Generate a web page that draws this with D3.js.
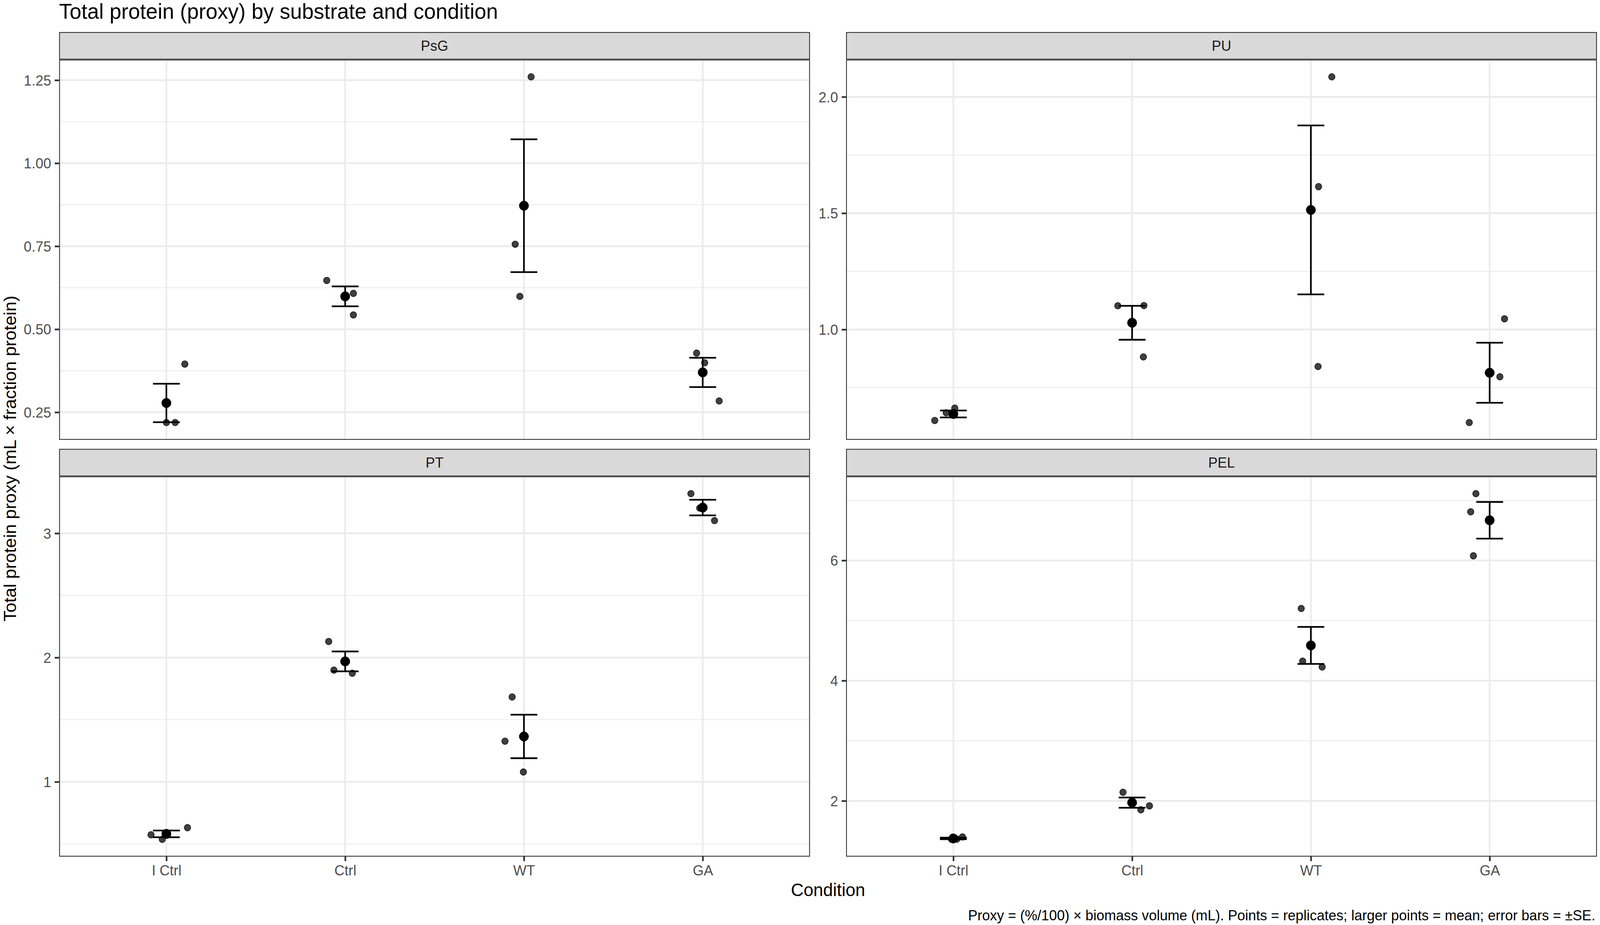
<!DOCTYPE html>
<html>
<head>
<meta charset="utf-8">
<script src="https://cdn.jsdelivr.net/npm/d3@7"></script>
<style>
  html, body { margin: 0; padding: 0; background: #ffffff; overflow: hidden; width: 100%; height: 100%; }
  #chart { width: 100vw; height: 100vh; }
  svg { display: block; font-family: "Liberation Sans", Arial, Helvetica, sans-serif; }
</style>
</head>
<body>
<div id="chart"></div>
<script>
// ---------------- DATA ----------------
const conditions = ["I Ctrl", "Ctrl", "WT", "GA"];
const substrates = ["PsG", "PU", "PT", "PEL"];

// replicate values per condition (3 replicates each)
const repPsG = [[0.219, 0.219, 0.395], [0.647, 0.608, 0.543], [1.260, 0.756, 0.599], [0.428, 0.399, 0.284]];
const repPU  = [[0.609, 0.642, 0.662], [1.102, 1.103, 0.882], [2.086, 1.614, 0.841], [1.046, 0.797, 0.600]];
const repPT  = [[0.574, 0.537, 0.631], [2.129, 1.899, 1.874], [1.683, 1.327, 1.079], [3.319, 3.203, 3.102]];
const repPEL = [[1.360, 1.365, 1.400], [2.143, 1.852, 1.918], [5.201, 4.325, 4.228], [7.111, 6.809, 6.077]];

// horizontal jitter of the replicates (in condition units, as produced by the original jitter)
const jitPsG = [[0.000, 0.049, 0.103], [-0.103, 0.046, 0.046], [0.040, -0.049, -0.023], [-0.034, 0.011, 0.092]];
const jitPU  = [[-0.104, -0.040, 0.008], [-0.080, 0.066, 0.063], [0.117, 0.043, 0.040], [0.083, 0.057, -0.114]];
const jitPT  = [[-0.086, -0.023, 0.118], [-0.092, -0.063, 0.040], [-0.066, -0.106, -0.003], [-0.066, -0.017, 0.066]];
const jitPEL = [[-0.010, 0.020, 0.051], [-0.051, 0.049, 0.097], [-0.054, -0.046, 0.063], [-0.077, -0.106, -0.091]];

// means and standard errors
const meanPsG = [0.278, 0.599, 0.872, 0.370];
const sePsG   = [0.058, 0.030, 0.200, 0.044];
const meanPU  = [0.637, 1.029, 1.514, 0.814];
const sePU    = [0.015, 0.073, 0.363, 0.129];
const meanPT  = [0.581, 1.969, 1.365, 3.207];
const sePT    = [0.027, 0.080, 0.175, 0.063];
const meanPEL = [1.375, 1.971, 4.586, 6.668];
const sePEL   = [0.013, 0.085, 0.308, 0.305];

// y tick values and labels
const ticksPsG = [0.25, 0.50, 0.75, 1.00, 1.25];
const tickLabelsPsG = ["0.25", "0.50", "0.75", "1.00", "1.25"];
const ticksPU = [1.0, 1.5, 2.0];
const tickLabelsPU = ["1.0", "1.5", "2.0"];
const ticksPT = [1, 2, 3];
const tickLabelsPT = ["1", "2", "3"];
const ticksPEL = [2, 4, 6];
const tickLabelsPEL = ["2", "4", "6"];

const titleText = "Total protein (proxy) by substrate and condition";
const xTitle = "Condition";
const yTitle = "Total protein proxy (mL \u00d7 fraction protein)";
const captionText = "Proxy = (%/100) \u00d7 biomass volume (mL). Points = replicates; larger points = mean; error bars = \u00b1SE.";

// ---------------- LAYOUT ----------------
const W = 4168, H = 2368;
const colX = [154, 2204];
const panelW = 1956;
const rowY = [82, 1149];
const stripH = 70.5;
const panelH = 973.5;
const tickLen = 11.5, tickPad = 9.2;
const fsTick = 36.7, fsTitle = 55, fsAxisTitle = 45.8;

const panels = [
  { name: substrates[0], rep: repPsG, jit: jitPsG, mean: meanPsG, se: sePsG, ticks: ticksPsG, labels: tickLabelsPsG, col: 0, row: 0 },
  { name: substrates[1], rep: repPU,  jit: jitPU,  mean: meanPU,  se: sePU,  ticks: ticksPU,  labels: tickLabelsPU,  col: 1, row: 0 },
  { name: substrates[2], rep: repPT,  jit: jitPT,  mean: meanPT,  se: sePT,  ticks: ticksPT,  labels: tickLabelsPT,  col: 0, row: 1 },
  { name: substrates[3], rep: repPEL, jit: jitPEL, mean: meanPEL, se: sePEL, ticks: ticksPEL, labels: tickLabelsPEL, col: 1, row: 1 }
];

// the svg fills the visible window; the drawing uses a fixed 4168x2368 coordinate system
const svg = d3.select("#chart").append("svg")
  .attr("width", "100%").attr("height", "100%")
  .attr("viewBox", `0 0 ${W} ${H}`)
  .attr("preserveAspectRatio", "none");

svg.append("rect").attr("width", W).attr("height", H).attr("fill", "#ffffff");

// title
svg.append("text")
  .attr("x", colX[0]).attr("y", 48)
  .attr("font-size", fsTitle).attr("fill", "#000000")
  .text(titleText);

panels.forEach(p => {
  const x0 = colX[p.col];
  const sy = rowY[p.row];
  const py = sy + stripH;

  // y domain with 5% expansion (ggplot default)
  const vals = [];
  p.rep.forEach(r => r.forEach(v => vals.push(v)));
  p.mean.forEach((m, i) => { vals.push(m - p.se[i]); vals.push(m + p.se[i]); });
  const lo = d3.min(vals), hi = d3.max(vals);
  const pad = (hi - lo) * 0.05;
  const y = d3.scaleLinear().domain([lo - pad, hi + pad]).range([py + panelH, py]);

  const x = d3.scalePoint().domain(conditions).range([x0, x0 + panelW]).padding(0.6);
  const step = x.step();

  const g = svg.append("g");
  const clipId = "clip-" + p.name;
  g.append("clipPath").attr("id", clipId)
    .append("rect").attr("x", x0).attr("y", py).attr("width", panelW).attr("height", panelH);

  // panel background
  g.append("rect").attr("x", x0).attr("y", py).attr("width", panelW).attr("height", panelH).attr("fill", "#ffffff");

  const inner = g.append("g").attr("clip-path", `url(#${clipId})`);

  // minor grid (midpoints between major ticks)
  const stepT = p.ticks[1] - p.ticks[0];
  const minor = [];
  for (let t = p.ticks[0] - stepT; t <= p.ticks[p.ticks.length - 1] + stepT / 2; t += stepT) {
    const m = t + stepT / 2;
    const [d0, d1] = y.domain();
    if (m > d0 && m < d1) minor.push(m);
  }
  inner.selectAll(".minor").data(minor).enter().append("line")
    .attr("x1", x0).attr("x2", x0 + panelW)
    .attr("y1", d => y(d)).attr("y2", d => y(d))
    .attr("stroke", "#EBEBEB").attr("stroke-width", 2.2);

  // major grid
  inner.selectAll(".majory").data(p.ticks).enter().append("line")
    .attr("x1", x0).attr("x2", x0 + panelW)
    .attr("y1", d => y(d)).attr("y2", d => y(d))
    .attr("stroke", "#EBEBEB").attr("stroke-width", 4.4);
  inner.selectAll(".majorx").data(conditions).enter().append("line")
    .attr("x1", d => x(d)).attr("x2", d => x(d))
    .attr("y1", py).attr("y2", py + panelH)
    .attr("stroke", "#EBEBEB").attr("stroke-width", 4.4);

  // replicates
  const reps = [];
  p.rep.forEach((r, i) => r.forEach((v, j) => reps.push({ c: conditions[i], v: v, j: p.jit[i][j] })));
  inner.selectAll(".rep").data(reps).enter().append("circle")
    .attr("cx", d => x(d.c) + d.j * step)
    .attr("cy", d => y(d.v))
    .attr("r", 8.3)
    .attr("fill", "#000000").attr("fill-opacity", 0.75)
    .attr("stroke", "#000000").attr("stroke-opacity", 0.75).attr("stroke-width", 1.9);

  // error bars
  const half = 0.075 * step;
  const eb = p.mean.map((m, i) => ({ c: conditions[i], m: m, se: p.se[i] }));
  inner.selectAll(".eb").data(eb).enter().append("path")
    .attr("d", d => {
      const cx = x(d.c), yt = y(d.m + d.se), yb = y(d.m - d.se);
      return `M${cx - half},${yt}H${cx + half}M${cx},${yt}V${yb}M${cx - half},${yb}H${cx + half}`;
    })
    .attr("fill", "none").attr("stroke", "#000000").attr("stroke-width", 4.3);

  // means
  inner.selectAll(".mean").data(eb).enter().append("circle")
    .attr("cx", d => x(d.c)).attr("cy", d => y(d.m))
    .attr("r", 12.2).attr("fill", "#000000")
    .attr("stroke", "#000000").attr("stroke-width", 1);

  // panel border (clipped ggplot look: half visible)
  g.append("rect").attr("x", x0 + 1.1).attr("y", py + 1.1)
    .attr("width", panelW - 2.2).attr("height", panelH - 2.2)
    .attr("fill", "none").attr("stroke", "#333333").attr("stroke-width", 2.2);

  // strip
  g.append("rect").attr("x", x0).attr("y", sy).attr("width", panelW).attr("height", stripH).attr("fill", "#D9D9D9");
  g.append("rect").attr("x", x0 + 1.1).attr("y", sy + 1.1)
    .attr("width", panelW - 2.2).attr("height", stripH - 2.2)
    .attr("fill", "none").attr("stroke", "#333333").attr("stroke-width", 2.2);
  g.append("text")
    .attr("x", x0 + panelW / 2).attr("y", sy + stripH / 2)
    .attr("dy", "0.355em")
    .attr("text-anchor", "middle")
    .attr("font-size", fsTick).attr("fill", "#1A1A1A")
    .text(p.name);

  // y axis
  const yAxis = d3.axisLeft(y)
    .tickValues(p.ticks)
    .tickFormat((d, i) => p.labels[i])
    .tickSize(tickLen).tickPadding(tickPad);
  const ya = svg.append("g").attr("transform", `translate(${x0},0)`).call(yAxis);
  ya.select(".domain").remove();
  ya.selectAll(".tick line").attr("stroke", "#333333").attr("stroke-width", 4.4);
  ya.selectAll(".tick text")
    .attr("font-size", fsTick).attr("fill", "#4D4D4D")
    .attr("font-family", "Liberation Sans, Arial, Helvetica, sans-serif")
    .attr("dy", "0.355em");

  // x axis on bottom row only
  if (p.row === 1) {
    const xAxis = d3.axisBottom(x).tickSize(tickLen).tickPadding(tickPad);
    const xa = svg.append("g").attr("transform", `translate(0,${py + panelH})`).call(xAxis);
    xa.select(".domain").remove();
    xa.selectAll(".tick line").attr("stroke", "#333333").attr("stroke-width", 4.4);
    xa.selectAll(".tick text")
      .attr("font-size", fsTick).attr("fill", "#4D4D4D")
      .attr("font-family", "Liberation Sans, Arial, Helvetica, sans-serif")
      .attr("dy", "0.75em");
  }
});

// axis titles
svg.append("text")
  .attr("x", (colX[0] + colX[1] + panelW) / 2).attr("y", 2294)
  .attr("text-anchor", "middle")
  .attr("font-size", fsAxisTitle).attr("fill", "#000000")
  .text(xTitle);

svg.append("text")
  .attr("transform", `translate(42,1174) rotate(-90)`)
  .attr("text-anchor", "middle")
  .attr("font-size", fsAxisTitle).attr("fill", "#000000")
  .text(yTitle);

// caption
svg.append("text")
  .attr("x", 4156).attr("y", 2356)
  .attr("text-anchor", "end")
  .attr("font-size", fsTick).attr("fill", "#000000")
  .text(captionText);
</script>
</body>
</html>
